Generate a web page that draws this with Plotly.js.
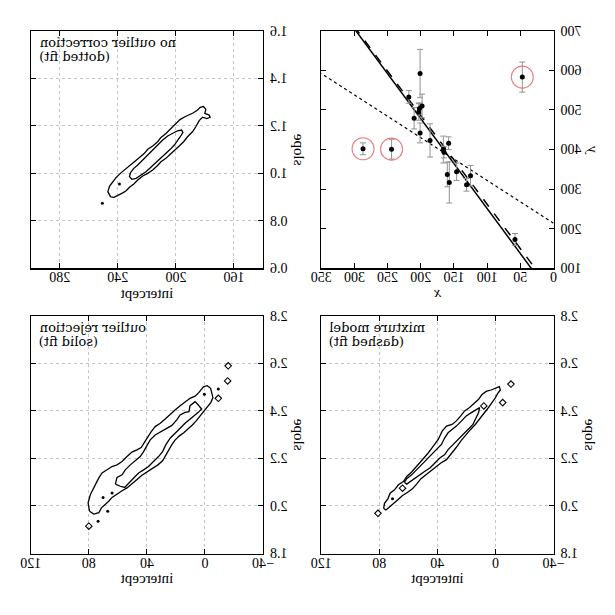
<!DOCTYPE html>
<html>
<head>
<meta charset="utf-8">
<script src="https://cdn.plot.ly/plotly-3.0.1.min.js"></script>
<style>
html,body{margin:0;padding:0;background:#fff;}
#chart{width:615px;height:615px;transform:scaleX(-1);transform-origin:center;}
</style>
</head>
<body>
<div id="chart"></div>
<script>
// ---- data points (x, y, sigma_y) ----
const xData = [201, 244, 47, 287, 203, 58, 210, 202, 198, 158, 165, 201, 157, 131, 166, 160, 186, 125, 218, 146];
const yData = [592, 401, 583, 402, 495, 173, 479, 504, 510, 416, 393, 442, 317, 311, 400, 337, 423, 334, 533, 344];
const sigmaY = [61, 25, 38, 15, 21, 15, 27, 14, 30, 16, 14, 25, 52, 16, 34, 31, 42, 26, 16, 22];
const outlierIdx = [1, 2, 3];

// ---- best fits: dotted (no correction), dashed (mixture), solid (rejection) ----
const fitNames = ['no outlier correction', 'mixture model', 'outlier rejection'];
const fitIntercept = [214, 38, 24];
const fitSlope = [1.08, 2.24, 2.27];
const fitXRange = [0, 350];

// ---- contours: no outlier correction ----
const noCorrOuterB = [245.0,246.9,245.7,243.4,241.1,237.7,234.3,232.0,228.6,225.1,221.7,219.4,216.0,212.6,210.3,206.9,203.4,200.0,197.0,193.8,190.9,187.9,185.1,183.3,181.0,179.4,180.1,177.1,176.4,178.7,181.7,184.0,186.3,188.6,192.0,194.7,197.7,201.1,203.9,206.9,210.3,213.0,216.0,219.4,222.9,226.3,229.0,232.0,234.3,236.6,240.0,242.7,245.0];
const noCorrOuterM = [0.901,0.923,0.946,0.965,0.983,1.003,1.021,1.035,1.049,1.067,1.084,1.101,1.115,1.133,1.151,1.168,1.189,1.208,1.227,1.238,1.245,1.255,1.266,1.278,1.281,1.269,1.252,1.245,1.236,1.230,1.236,1.222,1.196,1.175,1.154,1.133,1.115,1.098,1.080,1.063,1.049,1.031,1.014,1.000,0.989,0.972,0.955,0.941,0.927,0.918,0.908,0.899,0.901];
const noCorrInnerB = [231.3,229.0,226.3,222.9,219.4,216.0,212.6,209.1,205.7,202.3,198.9,196.1,195.2,197.0,198.9,201.1,203.9,206.9,210.3,213.7,217.1,220.6,224.0,227.4,230.4,232.0,231.3];
const noCorrInnerM = [1.003,1.021,1.035,1.056,1.077,1.098,1.119,1.140,1.157,1.168,1.179,1.182,1.172,1.154,1.137,1.119,1.101,1.084,1.063,1.042,1.024,1.007,0.993,0.979,0.975,0.986,1.003];
const noCorrDotB = [238.9, 250.7];
const noCorrDotM = [0.955, 0.874];

// ---- contours: outlier rejection ----
const rejOuterB = [79.5,80.5,78.9,76.6,75.0,73.1,70.9,67.4,64.0,60.6,57.1,53.7,50.3,46.9,43.9,41.6,39.3,37.0,34.3,30.8,27.4,24.0,20.6,17.1,13.7,10.3,6.8,4.1,1.1,-1.6,-3.9,-5.0,-5.5,-4.1,-1.8,0.4,3.2,5.9,8.7,11.4,14.6,17.8,20.6,22.9,25.1,27.4,29.2,32.4,36.1,39.8,43.4,46.8,50.3,53.7,57.1,60.6,64.0,66.3,68.6,71.3,73.1,76.6,79.5];
const rejOuterM = [1.978,2.013,2.048,2.076,2.097,2.118,2.139,2.152,2.166,2.173,2.187,2.208,2.227,2.236,2.246,2.269,2.292,2.313,2.334,2.348,2.366,2.383,2.404,2.422,2.439,2.453,2.462,2.478,2.501,2.506,2.495,2.474,2.456,2.436,2.418,2.397,2.376,2.359,2.341,2.325,2.308,2.294,2.277,2.257,2.234,2.213,2.190,2.173,2.159,2.146,2.129,2.111,2.092,2.076,2.064,2.050,2.036,2.020,2.006,1.992,1.972,1.966,1.978];
const rejInnerB = [61.7,60.6,57.1,54.9,51.4,48.0,44.6,42.3,40.0,37.7,34.3,30.8,27.4,22.8,19.4,17.1,13.7,11.0,10.3,6.8,4.6,2.3,4.6,6.8,10.3,13.7,17.1,20.6,24.0,27.0,29.2,32.0,35.4,38.9,42.3,45.7,49.1,52.6,55.3,58.3,61.3,61.7];
const rejInnerM = [2.092,2.120,2.131,2.152,2.173,2.190,2.208,2.229,2.257,2.278,2.299,2.311,2.320,2.339,2.362,2.383,2.394,2.397,2.422,2.439,2.425,2.408,2.394,2.383,2.369,2.348,2.327,2.306,2.285,2.257,2.229,2.208,2.187,2.166,2.152,2.139,2.118,2.097,2.078,2.083,2.090,2.092];
const rejLoopB = [-9.2, -15.6, -16.0, 80.0];
const rejLoopM = [2.453, 2.526, 2.590, 1.915];
const rejDotB = [-9.2, 0.4, 70.2, 64.0, 67.0, 73.6];
const rejDotM = [2.492, 2.470, 2.036, 2.055, 1.978, 1.936];

// ---- contours: mixture model ----
const mixOuterB = [77.0,76.4,74.1,72.5,69.5,66.8,63.4,61.1,57.7,54.9,52.0,49.0,46.3,42.8,39.4,36.7,33.7,29.9,26.9,23.9,21.2,17.8,14.4,11.6,9.4,6.4,3.0,-0.4,-2.7,-3.4,-1.6,0.2,3.0,5.7,8.4,11.0,13.9,17.1,20.3,23.5,26.9,30.3,33.7,37.6,41.3,44.4,48.1,51.3,54.3,57.2,60.4,64.0,67.2,70.2,73.2,75.4,77.0];
const mixOuterM = [1.990,2.011,2.030,2.054,2.068,2.089,2.103,2.124,2.143,2.163,2.185,2.202,2.223,2.252,2.280,2.315,2.336,2.343,2.358,2.379,2.400,2.414,2.431,2.449,2.468,2.482,2.488,2.496,2.502,2.488,2.474,2.454,2.428,2.407,2.386,2.365,2.343,2.322,2.301,2.276,2.247,2.219,2.195,2.181,2.163,2.146,2.129,2.115,2.092,2.072,2.058,2.044,2.026,2.011,1.997,1.983,1.990];
const mixInnerB = [62.7,61.1,57.7,54.2,50.8,47.4,44.0,40.6,37.2,34.9,32.6,29.9,26.9,23.5,20.1,16.6,13.2,10.9,11.6,13.2,15.5,18.9,22.3,25.8,29.2,32.6,34.9,38.3,41.7,45.1,48.6,52.0,55.4,58.1,61.1,62.7];
const mixInnerM = [2.100,2.115,2.131,2.153,2.174,2.195,2.216,2.237,2.259,2.287,2.308,2.322,2.336,2.357,2.379,2.393,2.407,2.414,2.393,2.372,2.343,2.322,2.301,2.280,2.259,2.237,2.216,2.202,2.181,2.160,2.146,2.131,2.117,2.103,2.092,2.100];
const mixLoopB = [8.0, 64.0, -10.7, 80.9, -5.0];
const mixLoopM = [2.421, 2.075, 2.513, 1.969, 2.435];
const mixDotB = [70.9];
const mixDotM = [2.030];

// ---- panel labels & ticks ----
const panelLabels = ['no outlier correction<br>(dotted fit)', 'mixture model<br>(dashed fit)', 'outlier rejection<br>(solid fit)'];
const dataXTicks = [0, 50, 100, 150, 200, 250, 300, 350];
const dataYTicks = [100, 200, 300, 400, 500, 600, 700];

const serif = 'Liberation Serif, DejaVu Serif, serif';
const traces = [];

// fit lines
const fitDash = ['dot', 'dash', 'solid'];
const fitWidth = [1.2, 1.5, 1.5];
for (let i = 0; i < fitNames.length; i++) {
  traces.push({
    type: 'scatter', mode: 'lines', xaxis: 'x', yaxis: 'y',
    x: fitXRange, y: fitXRange.map(v => fitIntercept[i] + fitSlope[i] * v),
    line: {color: 'black', width: fitWidth[i], dash: fitDash[i]}, hoverinfo: 'skip'
  });
}
// error bars + points
traces.push({
  type: 'scatter', mode: 'markers', xaxis: 'x', yaxis: 'y',
  x: xData, y: yData,
  error_y: {type: 'data', array: sigmaY, visible: true, color: '#929292', thickness: 1, width: 3},
  marker: {color: 'black', size: 5}
});
// outlier circles
traces.push({
  type: 'scatter', mode: 'markers', xaxis: 'x', yaxis: 'y',
  x: outlierIdx.map(i => xData[i]), y: outlierIdx.map(i => yData[i]),
  marker: {symbol: 'circle-open', size: 22, color: '#e58080', line: {width: 1.1, color: '#e58080'}}
});

function contourTraces(ax, outB, outM, inB, inM, loopB, loopM, dotB, dotM) {
  const xa = 'x' + ax, ya = 'y' + ax;
  const line = {color: 'black', width: 1.3};
  traces.push({type: 'scatter', mode: 'lines', xaxis: xa, yaxis: ya, x: outB, y: outM, line: line});
  traces.push({type: 'scatter', mode: 'lines', xaxis: xa, yaxis: ya, x: inB, y: inM, line: line});
  if (loopB.length) traces.push({type: 'scatter', mode: 'markers', xaxis: xa, yaxis: ya, x: loopB, y: loopM,
    marker: {symbol: 'diamond-open', size: 5, color: 'black', line: {width: 1.1, color: 'black'}}});
  if (dotB.length) traces.push({type: 'scatter', mode: 'markers', xaxis: xa, yaxis: ya, x: dotB, y: dotM,
    marker: {size: 3, color: 'black'}});
}
contourTraces('2', noCorrOuterB, noCorrOuterM, noCorrInnerB, noCorrInnerM, [], [], noCorrDotB, noCorrDotM);
contourTraces('3', mixOuterB, mixOuterM, mixInnerB, mixInnerM, mixLoopB, mixLoopM, mixDotB, mixDotM);
contourTraces('4', rejOuterB, rejOuterM, rejInnerB, rejInnerM, rejLoopB, rejLoopM, rejDotB, rejDotM);

const baseAxis = {
  showline: true, linecolor: 'black', linewidth: 1.2, mirror: 'ticks',
  ticks: 'inside', ticklen: 5, tickcolor: 'black', tickwidth: 1,
  zeroline: false, tickfont: {family: serif, size: 14, color: 'black'}
};
const xExtra = {ticklabelstandoff: -4};
const yExtra = {ticklabelstandoff: 3};
const gridStyle = {showgrid: true, gridcolor: '#c4c4c4', griddash: 'dot', gridwidth: 1};
const colL = [0.1, 0.4777], colR = [0.5723, 0.95];
const rowT = [0.5636, 0.95], rowB = [0.1, 0.4864];
function ttl(t, s) { return {text: t, font: {family: serif, size: 15, color: 'black'}, standoff: s}; }

const labelFont = {family: 'DejaVu Serif, serif', size: 13, color: 'black'};
const annotations = [];
['2', '3', '4'].forEach((ax, i) => {
  const lines = panelLabels[i].split('<br>');
  const offs = [11.5, 26];
  lines.forEach((ln, j) => {
    annotations.push({xref: 'x' + ax + ' domain', yref: 'y' + ax + ' domain', x: 0.975, y: 1,
      yshift: -offs[j], xanchor: 'right', yanchor: 'middle', align: 'right', showarrow: false,
      text: ln, font: labelFont});
  });
});

const layout = {
  width: 615, height: 615, margin: {l: 0, r: 0, t: 0, b: 0},
  paper_bgcolor: 'white', plot_bgcolor: 'white', showlegend: false,
  font: {family: serif, size: 14, color: 'black'},
  xaxis: Object.assign({}, baseAxis, xExtra, {domain: colL, anchor: 'y', range: [0, 350], tickvals: dataXTicks, showgrid: false, title: ttl('<i>x</i>', 2)}),
  yaxis: Object.assign({}, baseAxis, yExtra, {domain: rowT, anchor: 'x', range: [100, 700], tickvals: dataYTicks, showgrid: false, title: ttl('<i>y</i>', 2)}),
  xaxis2: Object.assign({}, baseAxis, xExtra, gridStyle, {domain: colR, anchor: 'y2', range: [140, 300], dtick: 40, tick0: 0, title: ttl('intercept', 2)}),
  yaxis2: Object.assign({}, baseAxis, yExtra, gridStyle, {domain: rowT, anchor: 'x2', range: [0.6, 1.6], dtick: 0.2, tick0: 0, tickformat: '.1f', title: ttl('slope', 2)}),
  xaxis3: Object.assign({}, baseAxis, xExtra, gridStyle, {domain: colL, anchor: 'y3', range: [-40, 120], dtick: 40, tick0: 0, title: ttl('intercept', 2)}),
  yaxis3: Object.assign({}, baseAxis, yExtra, gridStyle, {domain: rowB, anchor: 'x3', range: [1.8, 2.8], dtick: 0.2, tick0: 0, tickformat: '.1f', title: ttl('slope', 2)}),
  xaxis4: Object.assign({}, baseAxis, xExtra, gridStyle, {domain: colR, anchor: 'y4', range: [-40, 120], dtick: 40, tick0: 0, title: ttl('intercept', 2)}),
  yaxis4: Object.assign({}, baseAxis, yExtra, gridStyle, {domain: rowB, anchor: 'x4', range: [1.8, 2.8], dtick: 0.2, tick0: 0, tickformat: '.1f', title: ttl('slope', 2)}),
  annotations: annotations
};

Plotly.newPlot('chart', traces, layout, {staticPlot: true, displayModeBar: false});
</script>
</body>
</html>
